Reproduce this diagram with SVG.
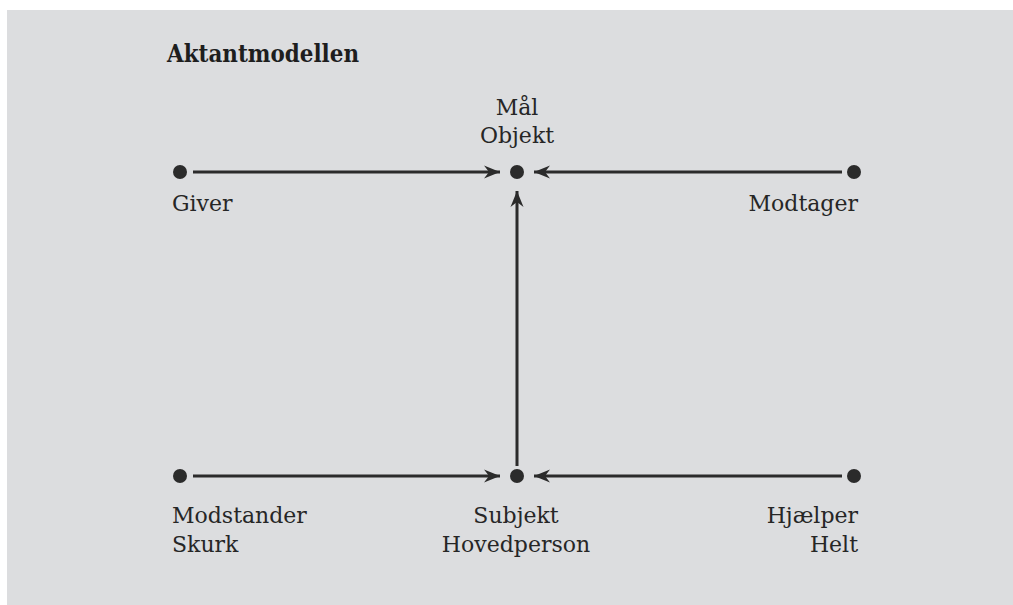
<svg xmlns="http://www.w3.org/2000/svg" width="1013" height="605" viewBox="0 0 1013 605">
  <style>
    .t { font-family: "DejaVu Serif", "Liberation Serif", serif; font-size: 22px; fill: #262626; }
    .title { font-family: "DejaVu Serif", "Liberation Serif", serif; font-size: 25px; font-weight: bold; fill: #1e1e1e; }
    .dot { fill: #2b2b2b; }
    .ln { stroke: #2b2b2b; stroke-width: 3; fill: none; }
  </style>
  <defs>
    <marker id="arr" markerUnits="userSpaceOnUse" markerWidth="18" markerHeight="16" viewBox="-17 -8 18 16" refX="0" refY="0" orient="auto">
      <path d="M0,0 L-16,-6.5 L-11,0 L-16,6.5 Z" fill="#2b2b2b"/>
    </marker>
  </defs>
  <rect x="0" y="0" width="1013" height="605" fill="#ffffff"/>
  <rect x="7" y="10" width="1006" height="595" fill="#dcdddf"/>

  <text class="title" x="167" y="62" textLength="192" lengthAdjust="spacingAndGlyphs">Aktantmodellen</text>

  <g id="connectors">
    <line class="ln" x1="193" y1="172" x2="500" y2="172" marker-end="url(#arr)"/>
    <line class="ln" x1="842" y1="172" x2="534" y2="172" marker-end="url(#arr)"/>
    <line class="ln" x1="517" y1="466" x2="517" y2="191" marker-end="url(#arr)"/>
    <line class="ln" x1="193" y1="476" x2="500" y2="476" marker-end="url(#arr)"/>
    <line class="ln" x1="842" y1="476" x2="534" y2="476" marker-end="url(#arr)"/>
  </g>

  <g id="giver">
    <circle class="dot" cx="180" cy="172" r="7"/>
    <text class="t" x="172" y="211">Giver</text>
  </g>
  <g id="objekt">
    <circle class="dot" cx="517" cy="172" r="7"/>
    <text class="t" x="517" y="115" text-anchor="middle">Mål</text>
    <text class="t" x="517" y="143" text-anchor="middle">Objekt</text>
  </g>
  <g id="modtager">
    <circle class="dot" cx="854" cy="172" r="7"/>
    <text class="t" x="858" y="211" text-anchor="end">Modtager</text>
  </g>
  <g id="modstander">
    <circle class="dot" cx="180" cy="476" r="7"/>
    <text class="t" x="172" y="523">Modstander</text>
    <text class="t" x="172" y="552">Skurk</text>
  </g>
  <g id="subjekt">
    <circle class="dot" cx="517" cy="476" r="7"/>
    <text class="t" x="516" y="523" text-anchor="middle">Subjekt</text>
    <text class="t" x="516" y="552" text-anchor="middle">Hovedperson</text>
  </g>
  <g id="hjaelper">
    <circle class="dot" cx="854" cy="476" r="7"/>
    <text class="t" x="858" y="523" text-anchor="end">Hjælper</text>
    <text class="t" x="858" y="552" text-anchor="end">Helt</text>
  </g>
</svg>
